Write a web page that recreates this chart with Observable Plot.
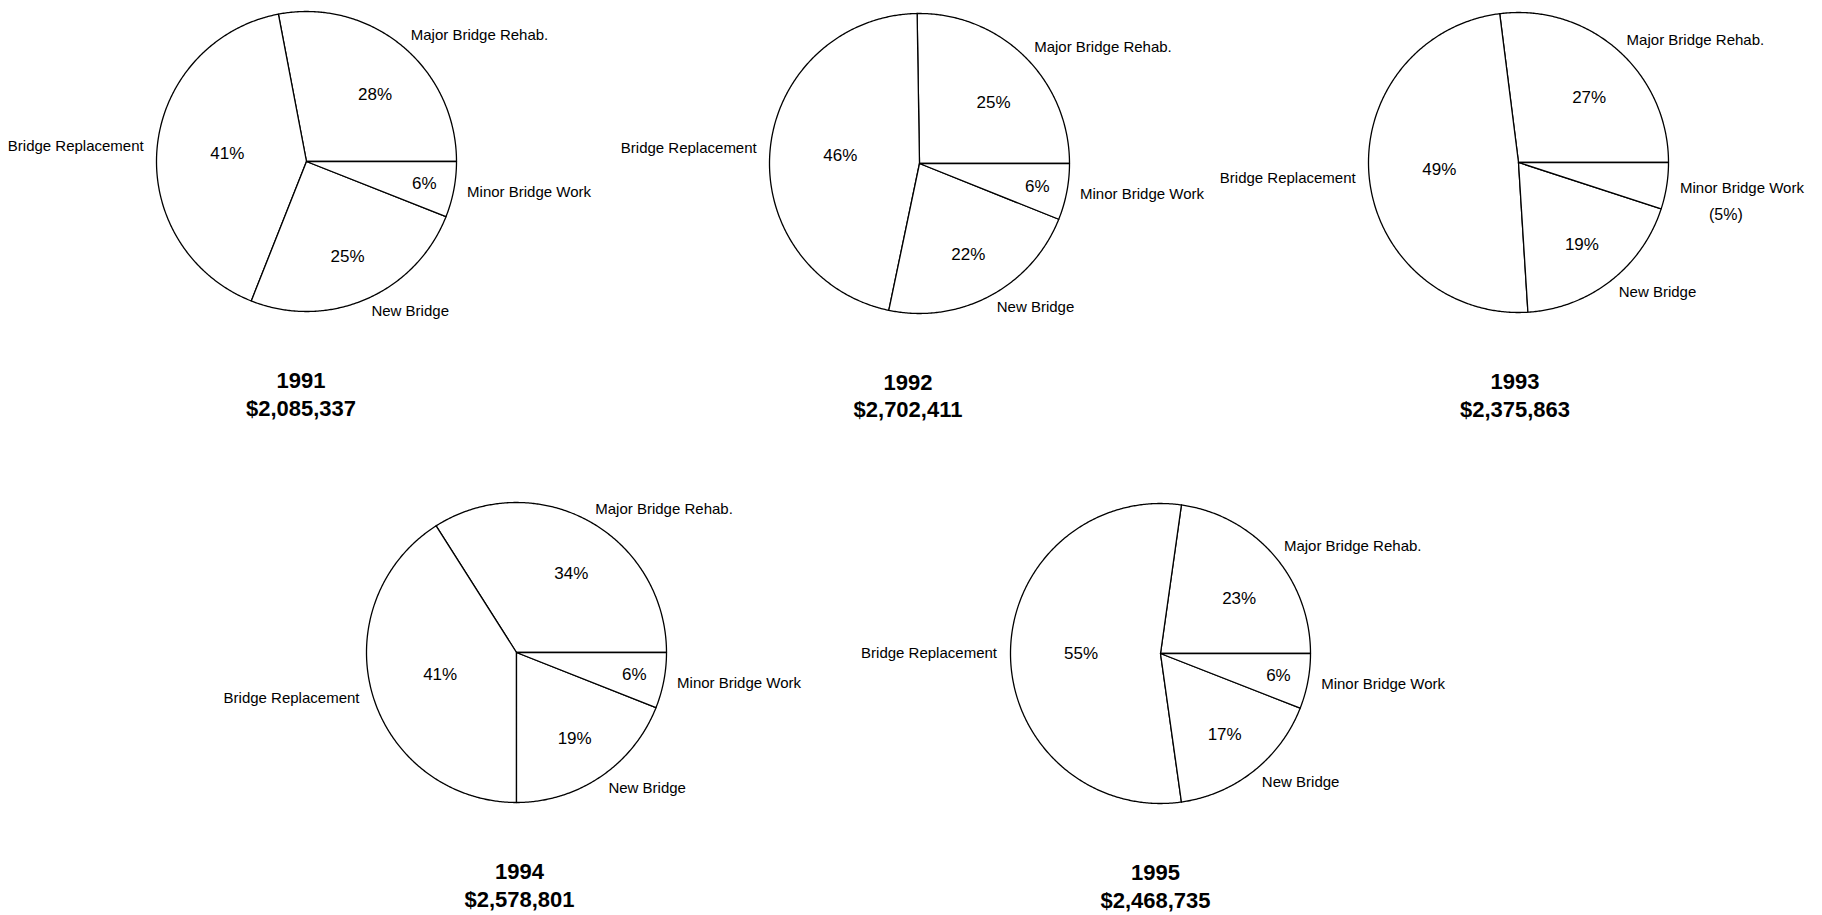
<!DOCTYPE html>
<html>
<head>
<meta charset="utf-8">
<script src="https://cdn.jsdelivr.net/npm/d3@7"></script>
<script src="https://cdn.jsdelivr.net/npm/@observablehq/plot@0.6"></script>
<style>
  html, body { margin: 0; padding: 0; background: #fff; }
  #page { position: relative; width: 1822px; height: 915px; overflow: hidden; background: #fff;
          font-family: "Liberation Sans", Arial, Helvetica, sans-serif; color: #000; }
  .fig { position: absolute; }
  .fig svg { overflow: visible; }
  .title { position: relative; text-align: center; font-weight: bold; font-size: 22px; line-height: 27.5px; }
</style>
</head>
<body>
<div id="page"></div>
<script>
// ---- data ----
const years = ["1991", "1992", "1993", "1994", "1995"];
const totals = ["$2,085,337", "$2,702,411", "$2,375,863", "$2,578,801", "$2,468,735"];
const categories = ["Major Bridge Rehab.", "Bridge Replacement", "New Bridge", "Minor Bridge Work"];
const majorBridgeRehab = [28, 25, 27, 34, 23];
const bridgeReplacement = [41, 46, 49, 41, 55];
const newBridge = [25, 22, 19, 19, 17];
const minorBridgeWork = [6, 6, 5, 6, 6];
const series = [majorBridgeRehab, bridgeReplacement, newBridge, minorBridgeWork];

// ---- layout ----
const centers = [[306, 161], [919, 162.5], [1518, 162], [515.5, 652], [1159.5, 653]];
const titleDx = [-5, -11, -3, 4, -4];
const R = 150, W = 640, CY = 160, H = 350;
const outerK = 1.09;
const pctPos = {
  "Major Bridge Rehab.": {k: 0.64, bias: -6},
  "Bridge Replacement": {k: 0.53, bias: 0},
  "New Bridge": {k: 0.69, bias: 0},
  "Minor Bridge Work": {k: 0.80, bias: 0}
};

const page = document.getElementById("page");

years.forEach((year, p) => {
  const values = series.map(s => s[p]);
  const total = d3.sum(values);
  let acc = 0;
  const slices = categories.map((cat, i) => {
    const a0 = acc / total * 2 * Math.PI;
    acc += values[i];
    const a1 = acc / total * 2 * Math.PI;
    return {cat, value: values[i], a0, a1, mid: (a0 + a1) / 2};
  });

  const poly = [];
  for (const s of slices) {
    poly.push({cat: s.cat, x: 0, y: 0});
    const n = Math.max(2, Math.ceil((s.a1 - s.a0) / (Math.PI / 360)));
    for (let j = 0; j <= n; j++) {
      const a = s.a0 + (s.a1 - s.a0) * j / n;
      poly.push({cat: s.cat, x: Math.cos(a), y: Math.sin(a)});
    }
  }

  const outer = slices.map(s => ({
    cat: s.cat,
    x: outerK * Math.cos(s.mid),
    y: outerK * Math.sin(s.mid),
    right: Math.cos(s.mid) >= 0,
    small: s.value < 5.5,
    pct: s.value + "%"
  }));
  const inner = slices.filter(s => s.value >= 5.5).map(s => {
    const pp = pctPos[s.cat];
    const a = s.mid + pp.bias * Math.PI / 180;
    return {x: pp.k * Math.cos(a), y: pp.k * Math.sin(a), t: s.value + "%"};
  });

  const chart = Plot.plot({
    width: W,
    height: H,
    margin: 0,
    x: {domain: [-W / 2 / R, W / 2 / R], axis: null},
    y: {domain: [-(H - CY) / R, CY / R], axis: null},
    style: {background: "transparent", fontFamily: '"Liberation Sans", Arial, Helvetica, sans-serif', color: "#000", overflow: "visible"},
    marks: [
      Plot.line(poly, {x: "x", y: "y", z: "cat", fill: "white", stroke: "black", strokeWidth: 1.3, curve: "linear-closed", strokeLinejoin: "round"}),
      Plot.text(inner, {x: "x", y: "y", text: "t", fontSize: 17, fill: "black"}),
      Plot.text(outer.filter(d => d.right), {x: "x", y: "y", text: "cat", textAnchor: "start", fontSize: 15, fill: "black"}),
      Plot.text(outer.filter(d => !d.right), {x: "x", y: "y", text: "cat", textAnchor: "end", fontSize: 15, fill: "black"}),
      Plot.text(outer.filter(d => d.small), {x: "x", y: "y", text: d => "(" + d.pct + ")", textAnchor: "start", dx: 29, dy: 27, fontSize: 16, fill: "black"})
    ]
  });

  const fig = document.createElement("div");
  fig.className = "fig";
  fig.style.left = (centers[p][0] - W / 2) + "px";
  fig.style.top = (centers[p][1] - CY) + "px";
  fig.style.width = W + "px";
  fig.appendChild(chart);
  const title = document.createElement("div");
  title.className = "title";
  title.style.left = titleDx[p] + "px";
  title.style.marginTop = "16px";
  const l1 = document.createElement("div"); l1.textContent = year;
  const l2 = document.createElement("div"); l2.textContent = totals[p];
  title.appendChild(l1); title.appendChild(l2);
  fig.appendChild(title);
  page.appendChild(fig);
});
</script>
</body>
</html>
